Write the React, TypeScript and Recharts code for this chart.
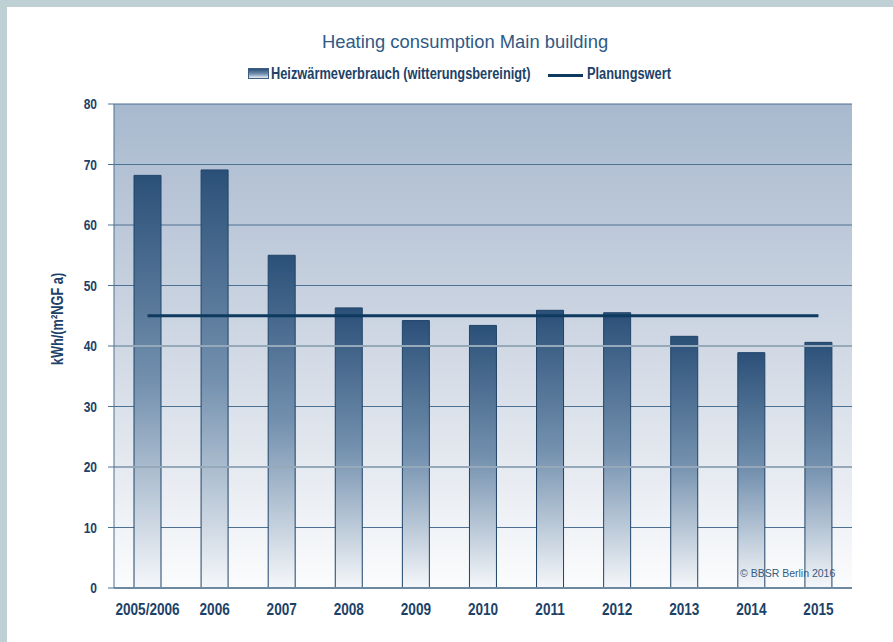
import React from 'react';
import { ComposedChart, Bar, Line, XAxis, YAxis, CartesianGrid, ReferenceLine } from 'recharts';

const categories = ['2005/2006', '2006', '2007', '2008', '2009', '2010', '2011', '2012', '2013', '2014', '2015'];
const consumption = [68.2, 69.1, 55.0, 46.3, 44.2, 43.4, 45.9, 45.5, 41.6, 38.9, 40.6];
const planValue = [45, 45, 45, 45, 45, 45, 45, 45, 45, 45, 45];
const yTicks = [0, 10, 20, 30, 40, 50, 60, 70, 80];
const lightGridValues = [20, 40];

const title = 'Heating consumption Main building';
const barLegend = 'Heizwärmeverbrauch (witterungsbereinigt)';
const lineLegend = 'Planungswert';
const yLabel = 'kWh/(m²NGF a)';
const credit = '© BBSR Berlin 2016';

const data = categories.map((c, i) => ({ name: c, value: consumption[i], plan: planValue[i] }));

const SANS = "'Liberation Sans', Arial, sans-serif";
const DARK = '#1d4268';
const SQUEEZE = 0.8;

function XTick(props: any) {
  const { x, y, payload } = props;
  return (
    <g transform={`translate(${x},${y})`}>
      <text transform={`scale(${SQUEEZE},1)`} textAnchor="middle" dy="0.71em" fill={DARK} fontSize={17} fontWeight="bold" fontFamily={SANS}>
        {payload.value}
      </text>
    </g>
  );
}

function YTick(props: any) {
  const { x, y, payload } = props;
  return (
    <g transform={`translate(${x},${y})`}>
      <text transform={`scale(${SQUEEZE},1)`} textAnchor="end" dy="0.355em" fill={DARK} fontSize={15} fontWeight="bold" fontFamily={SANS}>
        {payload.value}
      </text>
    </g>
  );
}

const squeezed: React.CSSProperties = {
  transform: `scaleX(${SQUEEZE})`,
  transformOrigin: 'left center',
};

export default function App() {
  return (
    <div style={{ position: 'absolute', left: 0, top: 0, width: 893, height: 642, background: '#bfd0d4', overflow: 'hidden' }}>
      <div style={{ position: 'absolute', left: 7, top: 7, right: 0, bottom: 0, background: '#ffffff' }} />
      <div style={{ position: 'absolute', left: 0, top: 0 }}>
        <ComposedChart width={893} height={642} data={data} margin={{ top: 104, right: 41, bottom: 0, left: 0 }}>
          <defs>
            <linearGradient id="plotBg" x1="0" y1="0" x2="0" y2="1">
              <stop offset="0%" stopColor="#a8b9ce" />
              <stop offset="50%" stopColor="#d0d8e4" />
              <stop offset="100%" stopColor="#fbfcfd" />
            </linearGradient>
            <linearGradient id="barGrad" x1="0" y1="0" x2="0" y2="1">
              <stop offset="0%" stopColor="#2b5078" />
              <stop offset="50%" stopColor="#7390ae" />
              <stop offset="100%" stopColor="#f5f7fa" />
            </linearGradient>
          </defs>
          <CartesianGrid vertical={false} stroke="#4d7192" strokeWidth={1} fill="url(#plotBg)" fillOpacity={1} />
          {lightGridValues.map((v) => (
            <ReferenceLine key={v} y={v} stroke="#96a9bb" strokeWidth={2} />
          ))}
          <XAxis
            dataKey="name"
            height={54}
            axisLine={{ stroke: '#6d89a2', strokeWidth: 2 }}
            tickLine={false}
            tickSize={0}
            tickMargin={15}
            interval={0}
            tick={<XTick />}
          />
          <YAxis
            width={114}
            domain={[0, 80]}
            ticks={yTicks}
            interval={0}
            axisLine={{ stroke: '#4d7192' }}
            tickLine={{ stroke: '#4d7192' }}
            tickSize={6}
            tickMargin={11}
            tick={<YTick />}
          />
          <Bar dataKey="value" barSize={27} fill="url(#barGrad)" stroke="#1f4468" strokeWidth={1} isAnimationActive={false} />
          <Line dataKey="plan" type="linear" stroke="#0e3a5f" strokeWidth={3} dot={false} activeDot={false} isAnimationActive={false} />
        </ComposedChart>
      </div>

      <div style={{ position: 'absolute', left: 0, width: 930, top: 30, textAlign: 'center', fontFamily: SANS, fontSize: 18.4, color: '#2f5a85', lineHeight: '24px', whiteSpace: 'nowrap' }}>
        {title}
      </div>

      <div style={{ position: 'absolute', left: 248, top: 68, width: 21, height: 11, border: '1px solid #3b5f83', boxSizing: 'border-box', background: 'linear-gradient(to bottom, #2b5078, #7390ae 55%, #e8edf3)' }} />
      <div style={{ position: 'absolute', left: 271, top: 64, fontFamily: SANS, fontWeight: 'bold', fontSize: 16, color: DARK, lineHeight: '20px', whiteSpace: 'nowrap', ...squeezed }}>
        {barLegend}
      </div>
      <div style={{ position: 'absolute', left: 548, top: 74, width: 35, height: 3, background: '#0e3a5f' }} />
      <div style={{ position: 'absolute', left: 587, top: 64, fontFamily: SANS, fontWeight: 'bold', fontSize: 16, color: DARK, lineHeight: '20px', whiteSpace: 'nowrap', ...squeezed }}>
        {lineLegend}
      </div>

      <div style={{ position: 'absolute', left: 58, top: 319, width: 0, height: 0 }}>
        <div style={{ position: 'absolute', left: 0, top: 0, transform: `translate(-50%, -50%) rotate(-90deg) scaleX(${SQUEEZE})`, fontFamily: SANS, fontWeight: 'bold', fontSize: 16, color: DARK, whiteSpace: 'nowrap', lineHeight: '18px' }}>
          {yLabel}
        </div>
      </div>

      <div style={{ position: 'absolute', left: 740, top: 566, fontFamily: SANS, fontSize: 10.5, color: '#355a80', lineHeight: '14px', whiteSpace: 'nowrap' }}>
        {credit}
      </div>
    </div>
  );
}
